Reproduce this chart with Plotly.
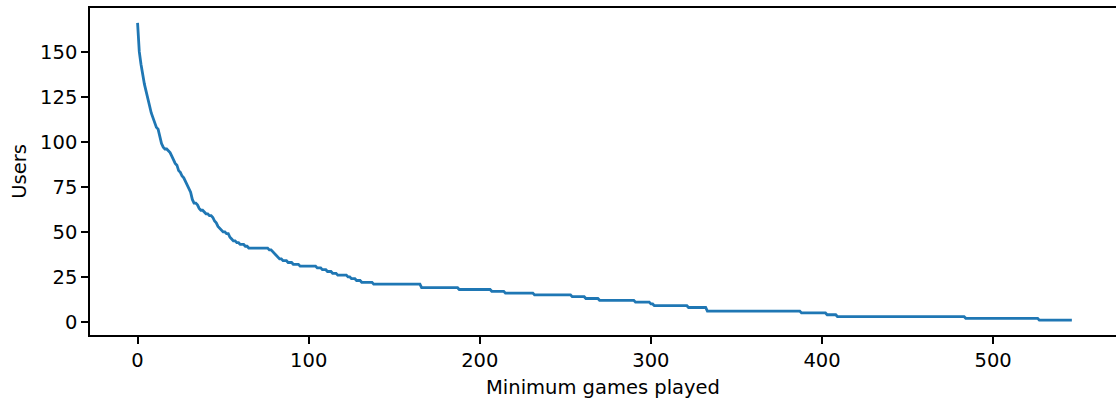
import plotly.graph_objects as go

# Users who have played at least N games, listed at the corners of the curve
min_games = [0, 1, 2, 3, 4, 5, 6, 7, 8, 9, 10, 11, 12, 13, 14, 15, 16, 17, 18, 19,
             20, 21, 22, 23, 24, 25, 26, 27, 28, 29, 30, 31, 32, 33, 34, 35, 36, 37,
             38, 39, 40, 41, 42, 43, 44, 45, 46, 47, 48, 49, 50, 51, 52, 53, 54, 55,
             56, 57, 58, 59, 60, 62, 63, 64, 65, 76, 77, 78, 79, 80, 81, 82, 83, 84,
             85, 87, 88, 90, 91, 94, 95, 104, 105, 107, 108, 110, 111, 113, 114, 116,
             117, 122, 123, 124, 125, 127, 128, 130, 131, 137, 138, 165, 166, 187,
             188, 206, 207, 214, 215, 231, 232, 253, 254, 261, 262, 269, 270, 290,
             291, 299, 300, 301, 302, 321, 322, 332, 333, 387, 388, 402, 403, 408,
             409, 483, 484, 526, 527, 546]
users = [166, 150, 143, 136, 132, 128, 123, 120, 116, 113, 110, 108, 107, 102, 99, 97, 96, 96, 95, 94,
         92, 90, 88, 87, 84, 83, 81, 80, 78, 76, 74, 72, 68, 66, 66, 65, 63, 62,
         62, 61, 60, 60, 59, 59, 58, 56, 55, 53, 52, 51, 50, 50, 49, 49, 47, 46,
         45, 45, 44, 44, 43, 43, 42, 42, 41, 41, 40, 40, 39, 38, 37, 36, 35, 35,
         34, 34, 33, 33, 32, 32, 31, 31, 30, 30, 29, 29, 28, 28, 27, 27,
         26, 26, 25, 25, 24, 24, 23, 23, 22, 22, 21, 21, 19, 19,
         18, 18, 17, 17, 16, 16, 15, 15, 14, 14, 13, 13, 12, 12,
         11, 11, 10, 10, 9, 9, 8, 8, 6, 6, 5, 5, 4, 4,
         3, 3, 2, 2, 1, 1]

x_ticks = [0, 100, 200, 300, 400, 500]
y_ticks = [0, 25, 50, 75, 100, 125, 150]

FONT = "DejaVu Sans"
FS = 19.5

fig = go.Figure()
fig.add_trace(go.Scatter(
    x=min_games, y=users, mode="lines",
    line=dict(color="#1f77b4", width=2.8),
    showlegend=False, hoverinfo="skip",
))

axis_common = dict(
    showgrid=False, zeroline=False, ticks="outside", ticklen=7, tickwidth=1.5,
    tickcolor="black", showline=True, linecolor="black", linewidth=1.5,
    tickfont=dict(family=FONT, size=FS, color="black"),
)

fig.update_layout(
    width=1116, height=401,
    margin=dict(l=90, r=0, t=8, b=66),
    paper_bgcolor="white", plot_bgcolor="white",
    font=dict(family=FONT, size=FS, color="black"),
    xaxis=dict(
        range=[-27.8, 571.8], tickvals=x_ticks, mirror=True,
        title=dict(text="Minimum games played", standoff=9,
                   font=dict(family=FONT, size=FS, color="black")),
        **axis_common,
    ),
    yaxis=dict(
        range=[-7.25, 174.25], tickvals=y_ticks, mirror=False,
        title=dict(text="Users", standoff=8,
                   font=dict(family=FONT, size=FS, color="black")),
        **axis_common,
    ),
)

fig.write_html("out.html")
